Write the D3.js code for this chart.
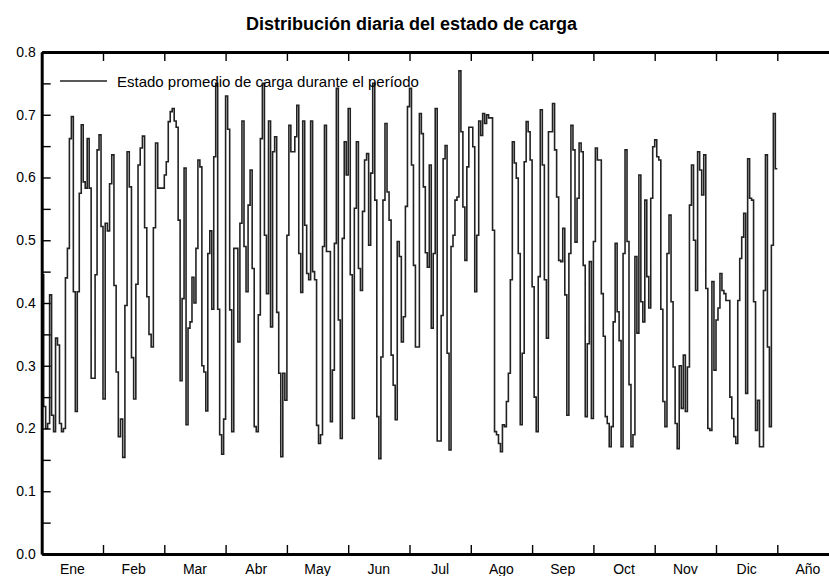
<!DOCTYPE html>
<html lang="es">
<head>
<meta charset="utf-8">
<title>Distribución diaria del estado de carga</title>
<script src="https://d3js.org/d3.v7.min.js"></script>
<style>
  body { margin: 0; background: #fff; }
  svg { display: block; font-family: "Liberation Sans", Arial, sans-serif; }
</style>
</head>
<body>
<script>
// daily mean state of charge, one array per month
const ene = [0.445, 0.235, 0.200, 0.208, 0.413, 0.221, 0.195, 0.344, 0.333, 0.208, 0.195, 0.200, 0.440, 0.487, 0.662, 0.697, 0.418, 0.227, 0.418, 0.575, 0.684, 0.593, 0.583, 0.662, 0.583, 0.280, 0.280, 0.445, 0.644, 0.668, 0.522];
const feb = [0.247, 0.527, 0.515, 0.590, 0.636, 0.428, 0.290, 0.187, 0.215, 0.154, 0.396, 0.641, 0.585, 0.313, 0.247, 0.430, 0.620, 0.647, 0.666, 0.520, 0.410, 0.350, 0.330, 0.520, 0.655, 0.583, 0.583, 0.583];
const mar = [0.604, 0.625, 0.689, 0.705, 0.710, 0.690, 0.680, 0.532, 0.276, 0.407, 0.615, 0.206, 0.360, 0.370, 0.441, 0.400, 0.487, 0.628, 0.617, 0.300, 0.290, 0.228, 0.479, 0.515, 0.390, 0.633, 0.750, 0.390, 0.190, 0.159, 0.215];
const abr = [0.730, 0.677, 0.389, 0.195, 0.487, 0.487, 0.338, 0.527, 0.690, 0.490, 0.418, 0.556, 0.612, 0.455, 0.203, 0.195, 0.381, 0.662, 0.750, 0.508, 0.415, 0.690, 0.362, 0.641, 0.665, 0.385, 0.288, 0.155, 0.288, 0.245];
const may = [0.508, 0.683, 0.641, 0.641, 0.665, 0.715, 0.479, 0.417, 0.690, 0.524, 0.447, 0.437, 0.690, 0.450, 0.437, 0.205, 0.176, 0.190, 0.490, 0.683, 0.482, 0.482, 0.211, 0.293, 0.495, 0.742, 0.373, 0.184, 0.503, 0.657, 0.604];
const jun = [0.710, 0.445, 0.216, 0.551, 0.657, 0.455, 0.420, 0.546, 0.628, 0.638, 0.492, 0.607, 0.750, 0.564, 0.219, 0.152, 0.314, 0.564, 0.686, 0.577, 0.532, 0.317, 0.269, 0.214, 0.498, 0.474, 0.338, 0.378, 0.554, 0.713];
const jul = [0.742, 0.620, 0.460, 0.330, 0.330, 0.702, 0.670, 0.585, 0.480, 0.457, 0.620, 0.360, 0.479, 0.710, 0.180, 0.180, 0.380, 0.630, 0.651, 0.320, 0.166, 0.490, 0.508, 0.564, 0.569, 0.770, 0.673, 0.553, 0.468, 0.617, 0.680];
const ago = [0.680, 0.649, 0.418, 0.508, 0.690, 0.667, 0.702, 0.686, 0.700, 0.695, 0.695, 0.516, 0.195, 0.190, 0.176, 0.163, 0.206, 0.203, 0.243, 0.288, 0.437, 0.657, 0.623, 0.599, 0.479, 0.206, 0.320, 0.625, 0.689, 0.673, 0.628];
const sep = [0.426, 0.250, 0.195, 0.442, 0.708, 0.620, 0.437, 0.344, 0.673, 0.673, 0.718, 0.644, 0.569, 0.468, 0.466, 0.519, 0.413, 0.221, 0.479, 0.683, 0.644, 0.497, 0.567, 0.655, 0.641, 0.460, 0.219, 0.335, 0.466, 0.216];
const oct = [0.498, 0.647, 0.628, 0.628, 0.415, 0.347, 0.219, 0.208, 0.171, 0.203, 0.370, 0.495, 0.386, 0.340, 0.171, 0.479, 0.644, 0.498, 0.270, 0.171, 0.190, 0.474, 0.352, 0.604, 0.402, 0.370, 0.564, 0.442, 0.392, 0.567, 0.649];
const nov = [0.660, 0.633, 0.628, 0.390, 0.243, 0.203, 0.479, 0.540, 0.402, 0.298, 0.208, 0.168, 0.300, 0.232, 0.317, 0.227, 0.298, 0.556, 0.620, 0.500, 0.420, 0.641, 0.612, 0.572, 0.636, 0.423, 0.200, 0.197, 0.434, 0.293];
const dic = [0.373, 0.392, 0.447, 0.420, 0.415, 0.404, 0.404, 0.250, 0.216, 0.187, 0.176, 0.404, 0.471, 0.505, 0.543, 0.256, 0.630, 0.567, 0.564, 0.402, 0.197, 0.245, 0.171, 0.171, 0.420, 0.636, 0.330, 0.203, 0.492, 0.702, 0.614];

const monthLabels = ["Ene", "Feb", "Mar", "Abr", "May", "Jun", "Jul", "Ago", "Sep", "Oct", "Nov", "Dic", "Año"];
const yLabels = [0, 0.1, 0.2, 0.3, 0.4, 0.5, 0.6, 0.7, 0.8];
const yMinorTicks = d3.range(0, 0.8001, 0.05);
const titleText = "Distribución diaria del estado de carga";
const legendText = "Estado promedio de carga durante el período";

var width = 829, height = 576;

var svg = d3.select("body").append("svg")
    .attr("width", width)
    .attr("height", height);

var x = d3.scaleLinear().domain([0, 13]).range([41.7, 838.6]);
var y = d3.scaleLinear().domain([0, 0.8]).range([554, 52]);

// each month gets the same width, days spread inside it
var months = [ene, feb, mar, abr, may, jun, jul, ago, sep, oct, nov, dic];
var points = [];
months.forEach(function (vals, m) {
  vals.forEach(function (v, i) { points.push([m + i / vals.length, v]); });
});
points.push([12, dic[dic.length - 1]]);

svg.append("defs").append("clipPath").attr("id", "plot")
  .append("rect")
    .attr("x", x(0)).attr("y", y(0.8))
    .attr("width", x(13) - x(0)).attr("height", y(0) - y(0.8));

// title
svg.append("text")
    .attr("x", 411.5).attr("y", 30)
    .attr("text-anchor", "middle")
    .style("font-size", "18px").style("font-weight", "bold")
    .text(titleText);

// data
var line = d3.line()
    .x(function (d) { return x(d[0]); })
    .y(function (d) { return y(d[1]); })
    .curve(d3.curveStepAfter);

svg.append("path")
    .datum(points)
    .attr("clip-path", "url(#plot)")
    .attr("d", line)
    .attr("fill", "none")
    .attr("stroke", "#222")
    .attr("stroke-width", 1.6);

// axes, ticks pointing inside
function styleAxis(g) {
  g.select(".domain").attr("stroke", "#000").attr("stroke-width", 3);
  g.selectAll(".tick line").attr("stroke", "#000").attr("stroke-width", 1.4);
  g.selectAll(".tick text").attr("fill", "#000").style("font-size", "14px")
    .style("font-family", "'Liberation Sans', Arial, sans-serif");
}

svg.append("g")
    .attr("transform", "translate(" + x(0) + ",0)")
    .call(d3.axisLeft(y).tickValues(yMinorTicks).tickSize(-9).tickSizeOuter(0).tickPadding(6)
      .tickFormat(function (d) {
        return yLabels.some(function (l) { return Math.abs(l - d) < 1e-6; }) ? d.toFixed(1) : "";
      }))
    .call(styleAxis);

svg.append("g")
    .attr("transform", "translate(" + x(13) + ",0)")
    .call(d3.axisRight(y).tickValues(yMinorTicks).tickSize(-9).tickSizeOuter(0).tickFormat(""))
    .call(styleAxis);

svg.append("g")
    .attr("transform", "translate(0," + y(0) + ")")
    .call(d3.axisBottom(x).tickValues(d3.range(0, 14)).tickSize(-9).tickSizeOuter(0).tickFormat(""))
    .call(styleAxis);

svg.append("g")
    .attr("transform", "translate(0," + y(0.8) + ")")
    .call(d3.axisTop(x).tickValues(d3.range(0, 14)).tickSize(-9).tickSizeOuter(0).tickFormat(""))
    .call(styleAxis);

// month names in the middle of each month
svg.append("g").selectAll("text")
    .data(monthLabels)
    .enter().append("text")
    .attr("x", function (d, i) { return x(i + 0.5); })
    .attr("y", 574)
    .attr("text-anchor", "middle")
    .style("font-size", "14px")
    .text(function (d) { return d; });

// legend
var legend = svg.append("g");
legend.append("line")
    .attr("x1", 60).attr("x2", 107).attr("y1", 81).attr("y2", 81)
    .attr("stroke", "#222").attr("stroke-width", 1.6);
legend.append("text")
    .attr("x", 117).attr("y", 86.5)
    .style("font-size", "15px")
    .text(legendText);
</script>
</body>
</html>
